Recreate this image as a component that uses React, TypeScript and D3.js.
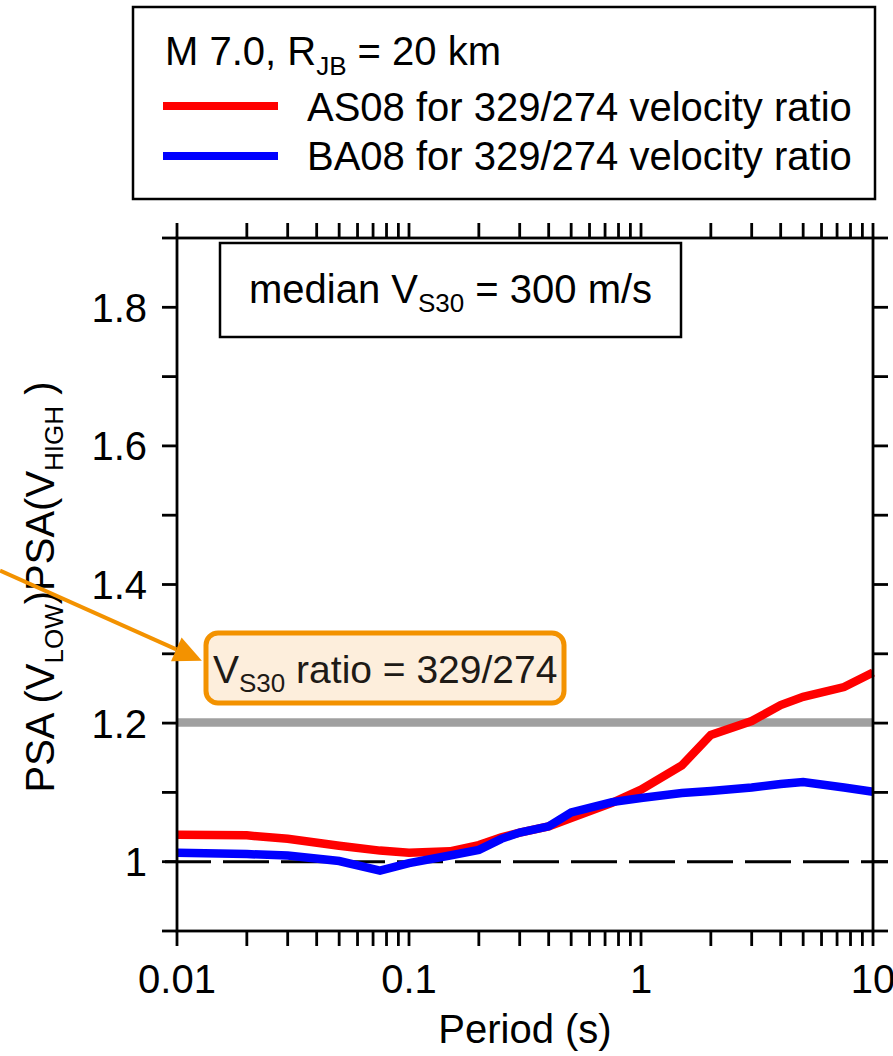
import React from "react";
import * as d3 from "d3";

// Spectral periods (s) at which the ratios were evaluated
const periods = [0.01, 0.02, 0.03, 0.05, 0.075, 0.1, 0.15, 0.2, 0.25, 0.3, 0.4, 0.5, 0.75, 1, 1.5, 2, 3, 4, 5, 7.5, 10];

// PSA(V_LOW)/PSA(V_HIGH) ratio for each model
const as08Ratio = [1.039, 1.038, 1.033, 1.023, 1.016, 1.013, 1.015, 1.024, 1.035, 1.042, 1.051, 1.063, 1.085, 1.104, 1.139, 1.183, 1.203, 1.226, 1.238, 1.252, 1.273];
const ba08Ratio = [1.013, 1.011, 1.009, 1.001, 0.987, 0.998, 1.009, 1.017, 1.033, 1.042, 1.051, 1.071, 1.086, 1.092, 1.099, 1.102, 1.107, 1.112, 1.115, 1.107, 1.101];

const xTickLabels = [0.01, 0.1, 1, 10];
const yTickLabels = [1, 1.2, 1.4, 1.6, 1.8];
const velocityRatio = 329 / 274;
const referenceRatio = 1;

const FONT = "'Liberation Sans', Arial, Helvetica, sans-serif";

export default function App() {
  const W = 893;
  const H = 1056;
  const x = d3.scaleLog().domain([0.01, 10]).range([177, 873]);
  const y = d3.scaleLinear().domain([0.9, 1.9]).range([931, 238]);
  const [x0, x1] = x.range();
  const [yb, yt] = y.range();
  const tickLen = 15;

  const line = d3
    .line<number>()
    .x((_, i) => x(periods[i]))
    .y((d) => y(d));

  // log minor ticks 1..9 per decade
  const xTicks: number[] = [];
  for (let e = -2; e < 1; e++) {
    for (let m = 1; m <= 9; m++) xTicks.push(m * Math.pow(10, e));
  }
  xTicks.push(10);
  const yTicks = d3.range(0, 11).map((i) => +(0.9 + i * 0.1).toFixed(2));

  // annotation arrow pointing at the ratio label
  const tip: [number, number] = [x(0.0128), y(1.29)];
  const tail: [number, number] = [0, y(1.42)];
  const dx = tip[0] - tail[0];
  const dy = tip[1] - tail[1];
  const len = Math.hypot(dx, dy);
  const ux = dx / len;
  const uy = dy / len;
  const headL = 28;
  const headW = 13;
  const bx = tip[0] - ux * headL;
  const by = tip[1] - uy * headL;
  const head = [
    [tip[0], tip[1]],
    [bx - uy * headW, by + ux * headW],
    [bx + uy * headW, by - ux * headW],
  ]
    .map((p) => p.join(","))
    .join(" ");

  const sub = { fontSize: 26 };

  return (
    <svg
      width={W}
      height={H}
      style={{ position: "absolute", left: 0, top: 0, background: "#fff" }}
      fontFamily={FONT}
    >
      <rect x={0} y={0} width={W} height={H} fill="#fff" />

      {/* legend */}
      <rect x={133} y={7} width={742} height={192} fill="#fff" stroke="#000" strokeWidth={2.5} />
      <text x={165} y={65} fontSize={40} fill="#000">
        M 7.0, R<tspan {...sub} dy={10}>JB</tspan>
        <tspan dy={-10}> = 20 km</tspan>
      </text>
      <line x1={163} x2={278} y1={106} y2={106} stroke="#ff0000" strokeWidth={8} />
      <text x={307} y={121} fontSize={40} fill="#000">AS08 for 329/274 velocity ratio</text>
      <line x1={163} x2={278} y1={156} y2={156} stroke="#0000ff" strokeWidth={8} />
      <text x={307} y={170} fontSize={40} fill="#000">BA08 for 329/274 velocity ratio</text>

      {/* reference lines */}
      <line x1={x0} x2={x1} y1={y(velocityRatio)} y2={y(velocityRatio)} stroke="#a0a0a0" strokeWidth={8.5} />
      <line
        x1={x0 - tickLen}
        x2={x1 + tickLen}
        y1={y(referenceRatio)}
        y2={y(referenceRatio)}
        stroke="#000"
        strokeWidth={3}
        strokeDasharray="46 12"
        strokeDashoffset={-tickLen + 46 + 12 - 46}
      />

      {/* model curves */}
      <path d={line(as08Ratio) ?? ""} fill="none" stroke="#ff0000" strokeWidth={8.5} />
      <path d={line(ba08Ratio) ?? ""} fill="none" stroke="#0000ff" strokeWidth={8.5} />

      {/* frame */}
      <rect x={x0} y={yt} width={x1 - x0} height={yb - yt} fill="none" stroke="#000" strokeWidth={2.8} />
      {yTicks.map((t) => (
        <g key={"y" + t}>
          <line x1={x0 - tickLen} x2={x0} y1={y(t)} y2={y(t)} stroke="#000" strokeWidth={2.8} />
          <line x1={x1} x2={x1 + tickLen} y1={y(t)} y2={y(t)} stroke="#000" strokeWidth={2.8} />
        </g>
      ))}
      {xTicks.map((t) => (
        <g key={"x" + t}>
          <line x1={x(t)} x2={x(t)} y1={yb} y2={yb + tickLen} stroke="#000" strokeWidth={2.8} />
          <line x1={x(t)} x2={x(t)} y1={yt} y2={yt - tickLen} stroke="#000" strokeWidth={2.8} />
        </g>
      ))}
      {yTickLabels.map((t) => (
        <text key={"yl" + t} x={147} y={y(t) + 14.5} fontSize={40} textAnchor="end" fill="#000">
          {String(t)}
        </text>
      ))}
      {xTickLabels.map((t) => (
        <text key={"xl" + t} x={x(t)} y={993} fontSize={40} textAnchor="middle" fill="#000">
          {String(t)}
        </text>
      ))}

      {/* axis titles */}
      <text x={525} y={1043} fontSize={40} textAnchor="middle" fill="#000">
        Period (s)
      </text>
      <text transform="translate(54,587) rotate(-90)" fontSize={40} textAnchor="middle" fill="#000">
        PSA (V<tspan {...sub} dy={9}>LOW</tspan>
        <tspan dy={-9}>)PSA(V</tspan>
        <tspan {...sub} dy={9}>HIGH</tspan>
        <tspan dy={-9}> )</tspan>
      </text>

      {/* median Vs30 note */}
      <rect x={220} y={243} width={461} height={94} fill="#fff" stroke="#000" strokeWidth={2.5} />
      <text x={450.5} y={303} fontSize={40} textAnchor="middle" fill="#000">
        median V<tspan {...sub} dy={9}>S30</tspan>
        <tspan dy={-9}> = 300 m/s</tspan>
      </text>

      {/* velocity ratio callout */}
      <line x1={tail[0]} y1={tail[1]} x2={bx} y2={by} stroke="#f39200" strokeWidth={4} />
      <polygon points={head} fill="#f39200" />
      <rect x={206} y={633} width={358} height={70} rx={12} fill="#fdeedc" stroke="#f39200" strokeWidth={5} />
      <text x={213} y={683} fontSize={39} fill="#1e1a16">
        V<tspan {...sub} dy={9}>S30</tspan>
        <tspan dy={-9}> ratio = 329/274</tspan>
      </text>
    </svg>
  );
}
